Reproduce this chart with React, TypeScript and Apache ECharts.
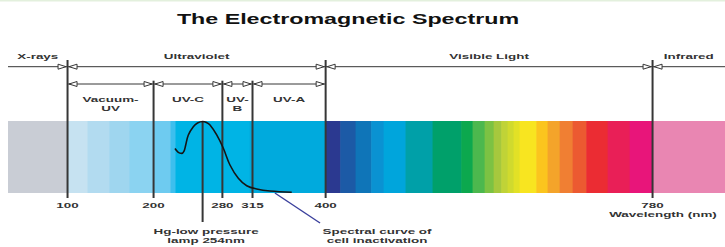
import React, { useEffect, useRef } from "react";
import * as echarts from "echarts";

// ---------- data ----------
const axisMinNm = 30.8;
const axisMaxNm = 864.2;

const bandEdgesNm = [30.8, 100, 123.2, 148.7, 172, 200, 219.7, 225.5, 311.5, 400, 417, 434.8, 453, 467.4, 492.9, 524.3, 557.7, 570.8, 584.8, 595.3, 604.2, 611.5, 618.5, 625.5, 644.9, 658, 672, 687.1, 703, 727.8, 753.4, 780, 864.2];
const bandColors = ["#c9cdd5", "#c6e2f1", "#b2dbf0", "#9fd6ef", "#8bd3f1", "#6ecbf0", "#3dbfee", "#00b4e5", "#00aadd", "#2b3990", "#1c5aa6", "#0f75b8", "#0a92d2", "#00a5dc", "#00a0a8", "#00a06a", "#0ca84e", "#4cb84e", "#7cc243", "#a6c83d", "#c0d337", "#d0da2e", "#e2e126", "#f8e520", "#fbc51e", "#f4a42a", "#f07f33", "#ec5a31", "#eb2c33", "#e91f57", "#e8157a", "#e986b2"];

const majorBoundsNm = [100, 400, 780];
const majorRegionLabels = ["X-rays", "Ultraviolet", "Visible Light", "Infrared"];
const uvBoundsNm = [100, 200, 280, 315, 400];
const uvRegionLabels = ["Vacuum-\nUV", "UV-C", "UV-\nB", "UV-A"];
const minorBoundsNm = [200, 280, 315];
const tickValuesNm = [100, 200, 280, 315, 400, 780];

const curveNm = [224.9, 228.7, 232.7, 235.4, 237.1, 240.4, 246.2, 251.1, 257.1, 260.9, 265.6, 273.4, 281.1, 288.8, 298.5, 308.3, 319.9, 335.3, 360.6];
const curveRel = [0.618, 0.565, 0.551, 0.583, 0.653, 0.806, 0.921, 0.972, 0.993, 0.982, 0.944, 0.806, 0.621, 0.389, 0.204, 0.101, 0.056, 0.028, 0.01];

const hgLampLineNm = 257;
const hgLampLabel = "Hg-low pressure\nlamp 254nm";
const inactivationPointerNm = [341, 393.5];
const inactivationLabel = "Spectral curve of\ncell inactivation";
const titleText = "The Electromagnetic Spectrum";
const axisTitle = "Wavelength (nm)";

// ---------- styling / layout ----------
const LINE = "#363636";
const TEXT = "#333333";
const FONT = 'bold 8px "Liberation Sans", Arial, sans-serif';
const SX = 1.68;
const TOP_LINE_Y = 66.7;
const INNER_LINE_Y = 84;
const TOP_LABEL_Y = 56;
const INNER_LABEL_TOP = 95.2;
const MAJOR_TOP = 60;
const MINOR_TOP = 80.7;

type Span = { start: number; end: number; label: string; level: number; arrowStart: boolean; arrowEnd: boolean };
const majorEdges = [axisMinNm, ...majorBoundsNm, axisMaxNm];
const spans: Span[] = [];
majorRegionLabels.forEach((label, i) =>
  spans.push({ start: majorEdges[i], end: majorEdges[i + 1], label, level: 0, arrowStart: i > 0, arrowEnd: i < majorRegionLabels.length - 1 })
);
uvRegionLabels.forEach((label, i) =>
  spans.push({ start: uvBoundsNm[i], end: uvBoundsNm[i + 1], label, level: 1, arrowStart: true, arrowEnd: true })
);

const bounds = [
  ...majorBoundsNm.map((nm) => ({ nm, major: true })),
  ...minorBoundsNm.map((nm) => ({ nm, major: false })),
];

const bandCells = bandColors.map((c, i) => [bandEdgesNm[i], bandEdgesNm[i + 1], 0]);

function txt(x: number, y: number, text: string, align: string, vAlign: string, font = FONT, sx = SX, fill = TEXT, lh = 8.4) {
  return {
    type: "text",
    x,
    y,
    scaleX: sx,
    style: {
      text,
      fill,
      font,
      textAlign: align,
      textVerticalAlign: vAlign,
      align,
      verticalAlign: vAlign,
      lineHeight: lh,
    },
  };
}

function arrow(tipX: number, y: number, dir: number) {
  // dir = -1 pointing left, +1 pointing right
  const baseX = tipX - dir * 8;
  return {
    type: "polygon",
    shape: { points: [[tipX, y], [baseX, y - 2.5], [baseX, y + 2.5]] },
    style: { fill: "#ffffff", stroke: LINE, lineWidth: 1 },
  };
}

export default function App() {
  const ref = useRef<HTMLDivElement>(null);
  useEffect(() => {
    if (!ref.current) return;
    const chart = echarts.init(ref.current, undefined, { renderer: "svg" });
    const option: any = {
      animation: false,
      backgroundColor: "#ffffff",
      grid: { left: 8, right: 0, top: 121, height: 72 },
      xAxis: {
        type: "value",
        min: axisMinNm,
        max: axisMaxNm,
        axisLine: { show: false },
        axisTick: { show: false },
        axisLabel: { show: false },
        splitLine: { show: false },
      },
      yAxis: { type: "value", min: 0, max: 1, show: false },
      graphic: [
        { type: "rect", shape: { x: 0, y: 0, width: 725, height: 1.5 }, style: { fill: "#e3f0dd" } },
        txt(348, 18.5, titleText, "center", "middle", 'bold 15.5px "Liberation Sans", Arial, sans-serif', 1.5, "#111111"),
        txt(663, 214.5, axisTitle, "center", "middle"),
      ],
      series: [
        {
          type: "custom",
          name: "band",
          z: 1,
          clip: false,
          data: bandCells,
          encode: { x: [0, 1], y: 2 },
          renderItem: (params: any, api: any) => {
            const i = params.dataIndex;
            const a = api.coord([bandEdgesNm[i], 1]);
            const b = api.coord([bandEdgesNm[i + 1], 0]);
            return {
              type: "rect",
              shape: { x: a[0], y: a[1], width: b[0] - a[0] + 0.6, height: b[1] - a[1] },
              style: { fill: bandColors[i] },
            };
          },
        },
        {
          type: "custom",
          name: "bounds",
          z: 3,
          clip: false,
          data: bounds.map((b) => [b.nm, 0]),
          encode: { x: 0, y: 1 },
          renderItem: (params: any, api: any) => {
            const b = bounds[params.dataIndex];
            const p = api.coord([b.nm, 0]);
            return {
              type: "line",
              shape: { x1: p[0], y1: b.major ? MAJOR_TOP : MINOR_TOP, x2: p[0], y2: p[1] + 5 },
              style: { stroke: LINE, lineWidth: 2 },
            };
          },
        },
        {
          type: "custom",
          name: "regions",
          z: 4,
          clip: false,
          data: spans.map((s) => [s.start, s.end, 0]),
          encode: { x: [0, 1], y: 2 },
          renderItem: (params: any, api: any) => {
            const s = spans[params.dataIndex];
            const x1 = api.coord([s.start, 0])[0];
            const x2 = api.coord([s.end, 0])[0];
            const y = s.level === 0 ? TOP_LINE_Y : INNER_LINE_Y;
            const children: any[] = [
              { type: "line", shape: { x1, y1: y, x2, y2: y }, style: { stroke: LINE, lineWidth: 1 } },
            ];
            if (s.arrowStart) children.push(arrow(x1 + 1.5, y, -1));
            if (s.arrowEnd) children.push(arrow(x2 - 1.5, y, 1));
            const cx = (x1 + x2) / 2;
            if (s.level === 0) children.push(txt(cx, TOP_LABEL_Y, s.label, "center", "middle"));
            else children.push(txt(cx, INNER_LABEL_TOP, s.label, "center", "top"));
            return { type: "group", children };
          },
        },
        {
          type: "custom",
          name: "ticks",
          z: 4,
          clip: false,
          data: tickValuesNm.map((v) => [v, 0]),
          encode: { x: 0, y: 1 },
          renderItem: (params: any, api: any) => {
            const p = api.coord([tickValuesNm[params.dataIndex], 0]);
            return txt(p[0], p[1] + 12, String(tickValuesNm[params.dataIndex]), "center", "middle");
          },
        },
        {
          type: "line",
          name: "Spectral curve of cell inactivation",
          z: 6,
          clip: false,
          data: curveNm.map((x, i) => [x, curveRel[i]]),
          smooth: 0.35,
          symbol: "none",
          lineStyle: { color: "#151515", width: 1.6 },
        },
        {
          type: "custom",
          name: "hgLamp",
          z: 5,
          clip: false,
          data: [[hgLampLineNm, 1]],
          encode: { x: 0, y: 1 },
          renderItem: (params: any, api: any) => {
            const top = api.coord([hgLampLineNm, 1]);
            const bot = api.coord([hgLampLineNm, 0]);
            return {
              type: "group",
              children: [
                { type: "line", shape: { x1: top[0], y1: top[1], x2: top[0], y2: bot[1] + 29 }, style: { stroke: LINE, lineWidth: 2 } },
                txt(top[0] + 3.5, bot[1] + 33.8, hgLampLabel, "center", "top", FONT, SX, TEXT, 8.8),
              ],
            };
          },
        },
        {
          type: "custom",
          name: "inactivationPointer",
          z: 5,
          clip: false,
          data: [[inactivationPointerNm[0], 0]],
          encode: { x: 0, y: 1 },
          renderItem: (params: any, api: any) => {
            const a = api.coord([inactivationPointerNm[0], 0]);
            const b = api.coord([inactivationPointerNm[1], 0]);
            return {
              type: "group",
              children: [
                { type: "line", shape: { x1: a[0], y1: a[1], x2: b[0], y2: b[1] + 30 }, style: { stroke: "#3a3f9c", lineWidth: 1.4 } },
                txt(b[0] + 57, b[1] + 33.8, inactivationLabel, "center", "top", FONT, SX, TEXT, 8.8),
              ],
            };
          },
        },
      ],
    };
    chart.setOption(option);
    return () => chart.dispose();
  }, []);
  return <div ref={ref} style={{ position: "absolute", left: 0, top: 0, width: 725, height: 247 }} />;
}
